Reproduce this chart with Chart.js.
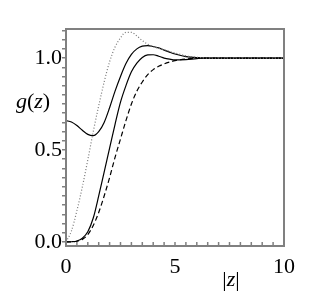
<!DOCTYPE html>
<html>
<head>
<meta charset="utf-8">
<script src="https://cdn.jsdelivr.net/npm/chart.js@4"></script>
<style>
  html, body { margin: 0; padding: 0; background: #fff; }
  #wrap { width: 327px; height: 300px; }
</style>
</head>
<body>
<div id="wrap"><canvas id="c" width="327" height="300"></canvas></div>
<script>
// |z| sample points
const zs = [0, 0.25, 0.5, 0.75, 1, 1.25, 1.5, 1.75, 2, 2.25, 2.5, 2.75, 3, 3.25, 3.5, 3.75, 4, 4.25, 4.5, 4.75, 5, 5.5, 6, 6.5, 7, 8, 9, 10];

// g(z) curves
const gDotted = [0, 0.06, 0.17, 0.3, 0.446, 0.6, 0.74, 0.87, 0.98, 1.06, 1.11, 1.14, 1.14, 1.12, 1.095, 1.075, 1.062, 1.053, 1.045, 1.036, 1.028, 1.012, 1.004, 1, 1, 1, 1, 1];
const gDip = [0.66, 0.652, 0.633, 0.607, 0.585, 0.578, 0.6, 0.65, 0.73, 0.82, 0.9, 0.97, 1.02, 1.05, 1.065, 1.068, 1.063, 1.055, 1.043, 1.032, 1.022, 1.008, 1.002, 1, 1, 1, 1, 1];
const gSolid = [0, 0.001, 0.005, 0.02, 0.055, 0.13, 0.25, 0.38, 0.51, 0.64, 0.76, 0.85, 0.925, 0.972, 1.003, 1.017, 1.018, 1.01, 1.0, 0.994, 0.99, 0.992, 0.997, 1, 1, 1, 1, 1];
const gDashed = [0, 0.001, 0.004, 0.014, 0.04, 0.09, 0.16, 0.25, 0.35, 0.46, 0.56, 0.66, 0.75, 0.82, 0.87, 0.91, 0.937, 0.955, 0.968, 0.978, 0.986, 0.995, 0.999, 1, 1, 1, 1, 1];

// ticks
const xLabels = [0, 5, 10];
const xMinor = [0.5, 1, 1.5, 2, 2.5, 3, 3.5, 4, 4.5, 5.5, 6, 6.5, 7, 7.5, 8, 8.5, 9, 9.5];
const yTicks = [0, 0.05, 0.1, 0.15, 0.2, 0.25, 0.3, 0.35, 0.4, 0.45, 0.5, 0.55, 0.6, 0.65, 0.7, 0.75, 0.8, 0.85, 0.9, 0.95, 1.0, 1.05, 1.1, 1.15];
const yLabels = [0, 0.5, 1.0];

const serif = "'Liberation Serif', 'DejaVu Serif', serif";
const frameColor = '#808080';

function pts(ys) {
  return zs.map((z, i) => ({ x: z, y: ys[i] }));
}

function drawPieces(ctx, pieces, x, y) {
  // pieces: [text, italic]
  let total = 0;
  pieces.forEach(p => {
    ctx.font = (p[1] ? 'italic ' : '') + '22px ' + serif;
    total += ctx.measureText(p[0]).width;
  });
  let cx = x - total / 2;
  pieces.forEach(p => {
    ctx.font = (p[1] ? 'italic ' : '') + '22px ' + serif;
    ctx.fillText(p[0], cx, y);
    cx += ctx.measureText(p[0]).width;
  });
}

const framePlugin = {
  id: 'frame',
  afterDatasetsDraw(chart) {
    const { ctx, chartArea: a, scales } = chart;
    ctx.save();
    // inward x tick marks
    ctx.strokeStyle = frameColor;
    ctx.lineWidth = 1.5;
    xMinor.concat(xLabels).forEach(v => {
      const px = scales.x.getPixelForValue(v);
      ctx.beginPath();
      ctx.moveTo(px, a.bottom);
      ctx.lineTo(px, a.bottom - 4);
      ctx.stroke();
    });
    ctx.lineWidth = 2;
    ctx.strokeRect(a.left, a.top, a.right - a.left, a.bottom - a.top);
    // axis titles
    ctx.fillStyle = '#000';
    ctx.textBaseline = 'alphabetic';
    ctx.textAlign = 'left';
    drawPieces(ctx, [['g', true], ['(', false], ['z', true], [')', false]], 33, 108);
    drawPieces(ctx, [['|', false], ['z', true], ['|', false]], 231, 286);
    ctx.restore();
  }
};

const line = (data, color, dash) => ({
  data: pts(data),
  borderColor: color,
  borderWidth: 1.2,
  borderDash: dash,
  pointRadius: 0,
  fill: false,
  cubicInterpolationMode: 'monotone'
});

new Chart(document.getElementById('c'), {
  type: 'line',
  data: {
    datasets: [
      line(gDotted, '#777', [1, 2]),
      line(gDip, '#000', []),
      line(gSolid, '#000', []),
      line(gDashed, '#000', [5, 3])
    ]
  },
  options: {
    responsive: false,
    animation: false,
    devicePixelRatio: 1,
    layout: { padding: { top: 29, right: 43, left: 0, bottom: 0 } },
    plugins: { legend: { display: false }, tooltip: { enabled: false } },
    scales: {
      x: {
        type: 'linear',
        min: 0,
        max: 10,
        afterBuildTicks: s => { s.ticks = xLabels.map(v => ({ value: v })); },
        afterFit: s => { s.height = 54; },
        grid: { display: false },
        border: { display: false },
        ticks: { color: '#000', font: { family: serif, size: 22 }, padding: 0, maxRotation: 0, autoSkip: false }
      },
      y: {
        type: 'linear',
        min: -0.022,
        max: 1.158,
        afterBuildTicks: s => { s.ticks = yTicks.map(v => ({ value: v })); },
        afterFit: s => { s.width = 66; },
        grid: { drawOnChartArea: false, drawTicks: true, tickLength: 4, color: frameColor, lineWidth: 1.5 },
        border: { display: false },
        ticks: {
          color: '#000',
          padding: 0,
          autoSkip: false,
          font: { family: serif, size: 22 },
          callback: v => yLabels.some(l => Math.abs(l - v) < 1e-6) ? v.toFixed(1) : ''
        }
      }
    }
  },
  plugins: [framePlugin]
});
</script>
</body>
</html>
